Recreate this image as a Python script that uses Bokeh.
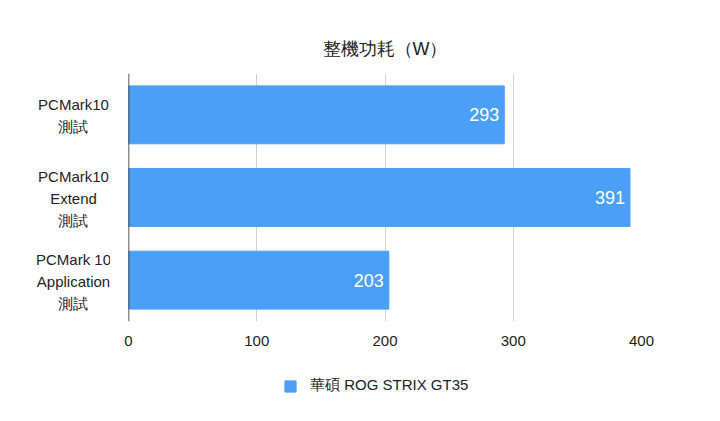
from bokeh.plotting import figure
from bokeh.models import ColumnDataSource, Legend, LegendItem, FactorRange, Range1d, FixedTicker, Span
from bokeh.layouts import column, row
from bokeh.core.properties import value
from bokeh.embed import file_html
from bokeh.resources import INLINE

categories = ["PCMark10 測試", "PCMark10 Extend 測試", "PCMark 10 Application 測試"]
category_labels = ["PCMark10\n測試", "PCMark10\nExtend\n測試", "PCMark 10\nApplication\n測試"]
values = [293, 391, 203]
series_name = "華碩 ROG STRIX GT35"
x_ticks = [0, 100, 200, 300, 400]

FONT = "Liberation Sans"
BAR = "#4c9ff6"
TXT = "#222222"

src = ColumnDataSource(dict(cat=categories, lab=category_labels, val=values,
                            txt=[str(v) for v in values], zero=[0] * len(values)))
yr = FactorRange(factors=list(reversed(categories)))

# ---- category label column (left) ----
lf = figure(width=110, height=355, output_backend="svg", toolbar_location=None,
            y_range=yr, x_range=Range1d(0, 1), x_axis_location=None, y_axis_location=None,
            min_border_left=0, min_border_right=0, min_border_top=73, min_border_bottom=34)
lf.outline_line_color = None
lf.grid.grid_line_color = None
lf.text(x="zero", y="cat", text="lab", source=src, x_offset=73, y_offset=1,
        text_align="center", text_baseline="middle", text_line_height=1.3,
        text_font=value(FONT), text_font_size="15px", text_color=TXT)

# ---- main chart ----
p = figure(width=590, height=355, output_backend="svg", toolbar_location=None,
           y_range=yr, x_range=Range1d(0, 400),
           min_border_left=18, min_border_right=59, min_border_top=73, min_border_bottom=34,
           title="整機功耗（W）")
p.outline_line_color = None
p.title.align = "center"
p.title.text_font = FONT
p.title.text_font_size = "18px"
p.title.text_font_style = "normal"
p.title.text_color = TXT
p.title.standoff = 30

r = p.hbar(y="cat", right="val", left=0, height=0.70, source=src, fill_color=BAR, line_color=BAR)

p.text(x="val", y="cat", text="txt", source=src, x_offset=-5,
       text_align="right", text_baseline="middle",
       text_font=value(FONT), text_font_size="18px", text_color="white")

p.xgrid.ticker = FixedTicker(ticks=x_ticks[1:])
p.xgrid.grid_line_color = "#d0d0d0"
p.ygrid.grid_line_color = None

p.xaxis.ticker = FixedTicker(ticks=x_ticks)
p.xaxis.axis_line_color = None
p.xaxis.major_tick_line_color = None
p.xaxis.minor_tick_line_color = None
p.xaxis.major_label_text_font = FONT
p.xaxis.major_label_text_font_size = "15px"
p.xaxis.major_label_text_color = TXT
p.xaxis.major_label_standoff = 8

p.yaxis.visible = False
p.add_layout(Span(location=0, dimension="height", line_color=TXT, line_width=1.5))

# ---- legend strip (bottom) ----
gf = figure(width=700, height=50, output_backend="svg", toolbar_location=None,
            y_range=yr, x_range=Range1d(-2, -1), x_axis_location=None, y_axis_location=None,
            min_border=0)
gf.outline_line_color = None
gf.grid.grid_line_color = None
lr = gf.hbar(y="cat", right="val", left=0, height=0.70, source=src, fill_color=BAR, line_color=BAR)
legend = Legend(items=[LegendItem(label=series_name, renderers=[lr])], location=(283, 10),
                orientation="horizontal", border_line_color=None, background_fill_alpha=0,
                label_text_font=FONT, label_text_font_size="15px", label_text_color=TXT,
                glyph_width=14, glyph_height=14, padding=0, margin=0, label_standoff=13)
gf.add_layout(legend, "center")

layout = column(row(lf, p), gf)
open("out.html", "w").write(file_html(layout, INLINE))
